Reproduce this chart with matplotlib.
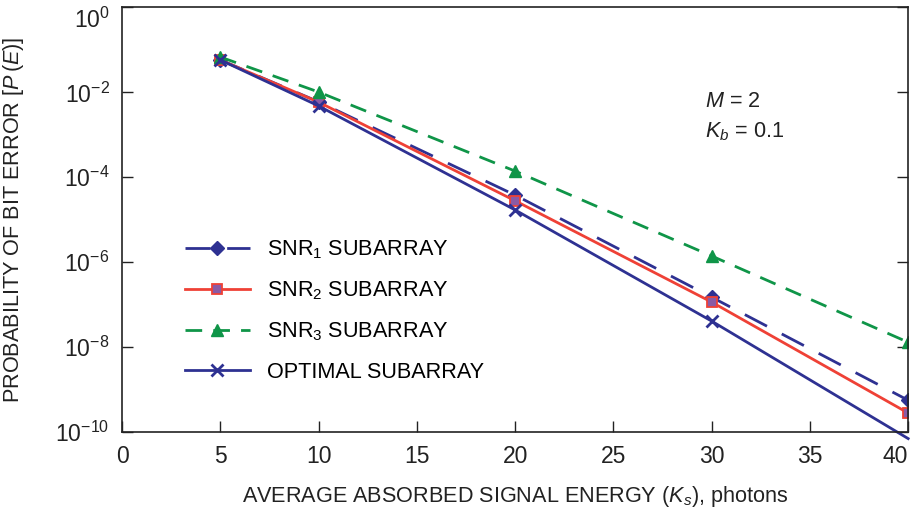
import matplotlib
matplotlib.use("Agg")
import matplotlib.pyplot as plt
import matplotlib.transforms as mtransforms

plt.rcParams['font.family'] = ['Liberation Sans', 'DejaVu Sans']
plt.rcParams['mathtext.fontset'] = 'custom'
plt.rcParams['mathtext.rm'] = 'Liberation Sans'
plt.rcParams['mathtext.it'] = 'Liberation Sans:italic'
plt.rcParams['mathtext.sf'] = 'Liberation Sans'

energy = [5, 10, 20, 30, 40]
snr1 = [0.058, 6.0e-3, 3.8e-5, 1.5e-7, 5.6e-10]
snr2 = [0.058, 5.9e-3, 2.8e-5, 1.15e-7, 2.8e-10]
snr3 = [0.068, 0.0102, 1.4e-4, 1.4e-6, 1.3e-8]
optimal = [0.058, 4.8e-3, 1.7e-5, 4.1e-8, 7.0e-11]

navy = "#2e3192"
red = "#ef4136"
green = "#0f9548"
ink = "#222222"
fs = 15.6

fig = plt.figure(figsize=(9.12, 5.14), dpi=100)
ax = fig.add_axes([0.1338, 0.1595, 0.862, 0.826])

ax.plot(energy, snr1, color=navy, lw=2.0, dashes=(9, 6), marker="D", ms=7,
        label="SNR$_1$ SUBARRAY")
ax.plot(energy, snr2, color=red, lw=2.0, marker="s", ms=7,
        markerfacecolor="#8a5aa5", markeredgecolor=red, markeredgewidth=1.3,
        label="SNR$_2$ SUBARRAY")
ax.plot(energy, snr3, color=green, lw=2.0, dashes=(6, 4), marker="^", ms=8,
        label="SNR$_3$ SUBARRAY")
# the optimal curve runs a little past the bottom axis at K_s = 40
ax.plot(energy, optimal, color=navy, lw=2.0, marker="x", ms=8, mew=2.0,
        markevery=[0, 1, 2, 3], clip_on=False, label="OPTIMAL SUBARRAY")

ax.set_yscale("log")
ax.set_xlim(0, 40)
ax.set_ylim(1e-10, 1)
ax.set_xticks(range(0, 41, 5))
ax.set_yticks([1e0, 1e-2, 1e-4, 1e-6, 1e-8, 1e-10])
ax.set_yticklabels(["$10^{0}$", "$10^{-2}$", "$10^{-4}$", "$10^{-6}$",
                    "$10^{-8}$", "$10^{-10}$"])
ax.minorticks_off()
ax.tick_params(direction="in", length=8, width=1, labelsize=16.5, colors=ink,
               right=True, top=False, pad=9)
ax.get_xticklabels()[-1].set_ha("right")
top_label = ax.get_yticklabels()[0]
top_label.set_transform(top_label.get_transform() +
                        mtransforms.ScaledTranslation(0, -10 / 100, fig.dpi_scale_trans))
for s in ax.spines.values():
    s.set_linewidth(1.2)
    s.set_color(ink)

ax.set_xlabel("AVERAGE ABSORBED SIGNAL ENERGY ($K_s$), photons", fontsize=fs,
              color=ink, labelpad=12)
ax.set_ylabel("PROBABILITY OF BIT ERROR [$P\\,(E)$]", fontsize=fs, color=ink)
ax.yaxis.set_label_coords(-0.122, 0.5)

ax.text(0.741, 0.766, "$M$ = 2", transform=ax.transAxes, fontsize=fs, color=ink)
ax.text(0.741, 0.694, "$K_b$ = 0.1", transform=ax.transAxes, fontsize=fs, color=ink)

ax.legend(loc="upper left", bbox_to_anchor=(0.080, 0.455), frameon=False,
          fontsize=fs, handlelength=3.0, labelspacing=0.85, handletextpad=0.8,
          borderpad=0, borderaxespad=0)

fig.savefig("out.png", dpi=100)
